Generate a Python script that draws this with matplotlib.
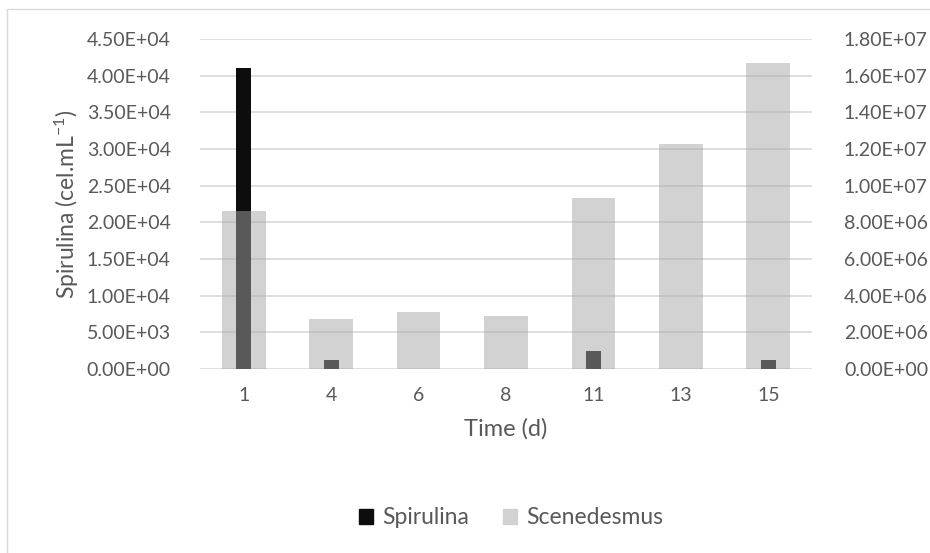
import numpy as np
import matplotlib.pyplot as plt
from matplotlib.patches import Patch, Rectangle

days = ['1', '4', '6', '8', '11', '13', '15']
spirulina = [41100, 1200, 0, 0, 2500, 0, 1200]
scenedesmus = [8.62e6, 2.75e6, 3.1e6, 2.9e6, 9.35e6, 1.23e7, 1.67e7]

txt = '#595959'
plt.rcParams['font.family'] = ['Lato', 'DejaVu Sans']
plt.rcParams['mathtext.fontset'] = 'custom'
plt.rcParams['mathtext.rm'] = 'Lato'
plt.rcParams['mathtext.it'] = 'Lato'

fig = plt.figure(figsize=(9.3, 5.53), dpi=100)
ax = fig.add_axes([200/930, 1-369/553, 612/930, 330/553])
x = np.arange(len(days))

ax.bar(x, spirulina, width=0.17, color='#0d0d0d', zorder=3)
ax.set_ylim(0, 45000)
ax.set_yticks(np.arange(0, 45001, 5000))
ax.set_yticklabels(['%.2E' % v for v in np.arange(0, 45001, 5000)])
ax.set_xlim(-0.5, len(days)-0.5)
ax.set_xticks(x)
ax.set_xticklabels(days)
ax.grid(axis='y', color='#d9d9d9', linewidth=1.2, zorder=0)
ax.set_axisbelow(True)
for s in ax.spines.values():
    s.set_visible(False)
ax.tick_params(length=0, colors=txt, labelsize=14)
ax.tick_params(axis='y', pad=21)
ax.tick_params(axis='x', pad=13)
ax.set_ylabel('Spirulina (cel.mL$^{\\mathregular{-1}}$)', color=txt, fontsize=16.5, labelpad=4)
ax.set_xlabel('Time (d)', color=txt, fontsize=17, labelpad=10)

ax2 = ax.twinx()
ax2.bar(x, scenedesmus, width=0.5, color='#a6a6a6', alpha=0.5, zorder=3)
ax2.set_ylim(0, 1.8e7)
ax2.set_yticks(np.arange(0, 1.8e7 + 1, 2e6))
ax2.set_yticklabels(['%.2E' % v for v in np.arange(0, 1.8e7 + 1, 2e6)])
for s in ax2.spines.values():
    s.set_visible(False)
ax2.tick_params(length=0, colors=txt, labelsize=14, pad=23)

handles = [Patch(color='#0d0d0d', label='Spirulina'),
           Patch(color='#d2d2d2', label='Scenedesmus')]
leg = fig.legend(handles=handles, loc='center', bbox_to_anchor=(511/930, 1-518/553),
                 ncol=2, frameon=False, fontsize=16.5, handlelength=0.6, handleheight=0.6,
                 handletextpad=0.4, columnspacing=1.5)
for t in leg.get_texts():
    t.set_color(txt)

fig.patches.append(Rectangle((7/930, -0.1), 1.2, 1-9/553+0.1, transform=fig.transFigure,
                             fill=False, edgecolor='#d9d9d9', linewidth=1))

fig.savefig('out.png', dpi=100)
